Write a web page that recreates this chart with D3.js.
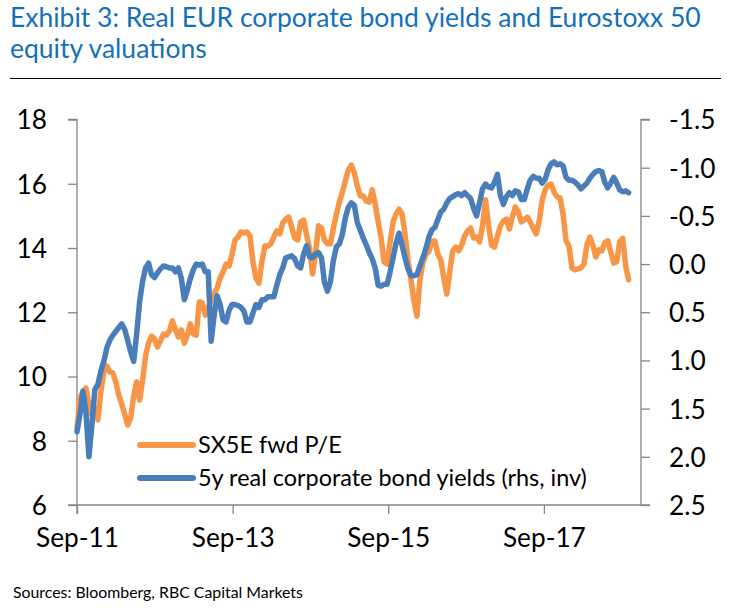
<!DOCTYPE html>
<html><head><meta charset="utf-8">
<script src="https://cdn.jsdelivr.net/npm/d3@7"></script>
<style>body{margin:0;background:#fff}svg{display:block}</style>
</head><body>
<svg id="chart" width="732" height="608"></svg>
<script>
const titleLines = ["Exhibit 3: Real EUR corporate bond yields and Eurostoxx 50", "equity valuations"];
const sourceText = "Sources: Bloomberg, RBC Capital Markets";
const seriesNames = ["SX5E fwd P/E", "5y real corporate bond yields (rhs, inv)"];
const startDate = "2011-09-01";
const stepDays = 14;
const xTickLabels = ["Sep-11", "Sep-13", "Sep-15", "Sep-17"];
const xTickDates = ["2011-09-01", "2013-09-01", "2015-09-01", "2017-09-01"];
const xDomain = ["2011-09-01", "2018-12-01"];
const leftTicks = [6, 8, 10, 12, 14, 16, 18];
const rightTicks = [-1.5, -1.0, -0.5, 0.0, 0.5, 1.0, 1.5, 2.0, 2.5];

const peValues = [8.40, 9.33, 9.55, 9.64, 9.14, 8.80, 9.02, 8.65, 9.52, 10.14,
10.33, 10.14, 10.11, 9.83, 9.42, 9.14, 8.83, 8.49, 8.71, 9.39,
9.83, 9.27, 9.89, 10.64, 11.04, 11.26, 11.17, 10.92, 11.11, 11.32,
11.29, 11.42, 11.73, 11.45, 11.23, 11.45, 11.04, 11.29, 11.64, 11.32,
11.29, 12.32, 12.29, 11.91, 12.13, 12.38, 12.57, 12.76, 13.07, 13.25,
13.50, 13.44, 13.81, 14.25, 14.34, 14.50, 14.47, 14.50, 14.37, 13.57,
13.07, 12.91, 13.57, 14.06, 14.06, 14.13, 14.34, 14.53, 14.44, 14.78,
14.90, 14.96, 14.65, 14.31, 14.25, 14.81, 14.87, 14.41, 14.00, 13.19,
13.81, 14.69, 14.62, 14.25, 14.13, 14.13, 14.62, 15.06, 15.43, 15.74,
16.09, 16.43, 16.58, 16.34, 15.93, 15.62, 15.62, 15.46, 15.43, 15.81,
15.37, 14.81, 14.31, 13.57, 13.50, 14.19, 14.81, 15.06, 15.21, 15.06,
14.44, 13.63, 13.01, 12.35, 11.88, 13.01, 13.53, 13.81, 13.88, 14.22,
14.22, 13.81, 13.63, 13.07, 12.57, 13.25, 13.91, 14.03, 13.91, 14.09,
14.37, 14.53, 14.62, 14.31, 14.34, 14.19, 14.69, 15.50, 14.72, 14.09,
14.03, 14.37, 14.69, 14.84, 14.90, 14.59, 14.96, 15.28, 15.12, 14.81,
14.87, 14.96, 14.81, 14.62, 14.44, 14.84, 15.49, 15.81, 15.96, 15.99,
15.74, 15.59, 15.56, 15.06, 14.22, 14.06, 13.38, 13.32, 13.35, 13.38,
13.50, 14.09, 14.34, 14.09, 13.72, 13.94, 13.91, 14.16, 14.22, 13.88,
13.53, 13.57, 14.19, 14.30, 13.44, 13.01];

const yieldValues = [1.74, 1.56, 1.32, 1.53, 2.00, 1.67, 1.30, 1.25, 1.11, 1.01,
0.87, 0.79, 0.74, 0.70, 0.66, 0.62, 0.68, 0.79, 0.91, 1.01,
0.73, 0.39, 0.18, 0.04, -0.01, 0.11, 0.14, 0.09, 0.05, 0.02,
0.03, 0.04, 0.04, 0.08, 0.04, 0.15, 0.37, 0.27, 0.15, 0.06,
0.00, 0.01, 0.00, 0.08, 0.08, 0.80, 0.53, 0.33, 0.42, 0.58,
0.60, 0.48, 0.42, 0.42, 0.43, 0.45, 0.49, 0.60, 0.60, 0.51,
0.42, 0.45, 0.37, 0.37, 0.34, 0.34, 0.34, 0.22, 0.11, 0.04,
-0.065, -0.075, -0.085, -0.055, 0.02, 0.04, -0.105, -0.19, -0.075, -0.065,
-0.105, -0.12, -0.065, 0.19, 0.28, 0.18, -0.04, -0.18, -0.21, -0.31,
-0.48, -0.59, -0.635, -0.61, -0.43, -0.35, -0.27, -0.20, -0.12, -0.055,
0.04, 0.22, 0.23, 0.21, 0.21, 0.08, -0.065, -0.22, -0.32, -0.20,
-0.065, 0.05, 0.12, 0.12, 0.11, 0.02, -0.065, -0.16, -0.28, -0.355,
-0.38, -0.46, -0.54, -0.57, -0.635, -0.68, -0.70, -0.72, -0.73, -0.71,
-0.74, -0.71, -0.68, -0.58, -0.50, -0.635, -0.78, -0.83, -0.80, -0.79,
-0.85, -0.93, -0.71, -0.62, -0.70, -0.74, -0.71, -0.76, -0.75, -0.67,
-0.67, -0.78, -0.87, -0.91, -0.89, -0.89, -0.84, -0.88, -0.98, -1.04,
-1.06, -1.03, -1.04, -1.02, -0.90, -0.87, -0.87, -0.85, -0.82, -0.78,
-0.81, -0.84, -0.89, -0.93, -0.96, -0.97, -0.96, -0.85, -0.79, -0.84,
-0.90, -0.84, -0.77, -0.75, -0.76, -0.74];

// ---- styles / layout ----
const FONT = "Lato, 'Open Sans', sans-serif";
const orange = "#F79646", blue = "#4A7EBB", axisGrey = "#868686", titleBlue = "#1570BA";
const plot = {left: 77, right: 641, top: 119.5, bottom: 505};

const parse = d3.timeParse("%Y-%m-%d");
const start = parse(startDate);
const dates = peValues.map((_, i) => d3.timeDay.offset(start, i * stepDays));

const svg = d3.select("#chart");

function fitWidth(sel, w) {
  const fs = parseFloat(sel.attr("font-size"));
  const len = sel.node().getComputedTextLength();
  sel.attr("font-size", fs * w / len);
  return fs * w / len;
}

// title
const t1 = svg.append("text").attr("x", 10).attr("y", 27).attr("font-family", FONT)
  .attr("font-size", 24).attr("fill", titleBlue).text(titleLines[0]);
const titleSize = fitWidth(t1, 691);
svg.append("text").attr("x", 10).attr("y", 58).attr("font-family", FONT)
  .attr("font-size", titleSize).attr("fill", titleBlue).text(titleLines[1]);
svg.append("line").attr("x1", 10).attr("x2", 721).attr("y1", 78.5).attr("y2", 78.5)
  .attr("stroke", "#000").attr("stroke-width", 1.2);

// scales
const x = d3.scaleTime().domain(xDomain.map(parse)).range([plot.left, plot.right]);
const yL = d3.scaleLinear().domain([6, 18]).range([plot.bottom, plot.top]);
const yR = d3.scaleLinear().domain([2.5, -1.5]).range([plot.bottom, plot.top]);

// tick font size (fit "Sep-11" to ~83px)
const probe = svg.append("text").attr("font-family", FONT).attr("font-size", 26).text(xTickLabels[0]);
const tickSize = fitWidth(probe, 83);
probe.remove();

// axes
const gL = svg.append("g").attr("transform", `translate(${plot.left},0)`)
  .call(d3.axisLeft(yL).tickValues(leftTicks).tickSize(9).tickPadding(21).tickFormat(d3.format("d")));
const gR = svg.append("g").attr("transform", `translate(${plot.right},0)`)
  .call(d3.axisRight(yR).tickValues(rightTicks).tickSize(9).tickPadding(19).tickFormat(d => d.toFixed(1)));
const gX = svg.append("g").attr("transform", `translate(0,${plot.bottom})`)
  .call(d3.axisBottom(x).tickValues(xTickDates.map(parse)).tickSize(9).tickPadding(14)
    .tickFormat((d, i) => xTickLabels[i]));
[gL, gR, gX].forEach(g => {
  g.select(".domain").attr("stroke", axisGrey).attr("stroke-width", 1.3);
  g.selectAll(".tick line").attr("stroke", axisGrey).attr("stroke-width", 1.3);
  g.selectAll("text").attr("font-family", FONT).attr("font-size", tickSize).attr("fill", "#000");
});
gL.select(".domain").attr("d", `M-9,${plot.top}H0V${plot.bottom}H-9`);
gR.select(".domain").attr("d", `M9,${plot.top}H0V${plot.bottom}H9`);
gX.select(".domain").attr("d", `M${plot.left},9V0H${plot.right}`);
gL.selectAll(".tick text").attr("dy", "0.36em");
gR.selectAll(".tick text").attr("dy", "0.36em");

// lines
const linePE = d3.line().x((d, i) => x(dates[i])).y(d => yL(d));
const lineY = d3.line().x((d, i) => x(dates[i])).y(d => yR(d));
svg.append("path").datum(peValues).attr("d", linePE).attr("fill", "none")
  .attr("stroke", orange).attr("stroke-width", 5.5).attr("stroke-linejoin", "round").attr("stroke-linecap", "round");
svg.append("path").datum(yieldValues).attr("d", lineY).attr("fill", "none")
  .attr("stroke", blue).attr("stroke-width", 5.5).attr("stroke-linejoin", "round").attr("stroke-linecap", "round");

// legend
const legY = [445, 478];
const legColors = [orange, blue];
const legTexts = seriesNames.map((name, i) => {
  svg.append("line").attr("x1", 140).attr("x2", 193).attr("y1", legY[i]).attr("y2", legY[i])
    .attr("stroke", legColors[i]).attr("stroke-width", 6).attr("stroke-linecap", "round");
  return svg.append("text").attr("x", 198).attr("y", legY[i] + 8).attr("font-family", FONT)
    .attr("font-size", 22).attr("fill", "#000").text(name);
});
const legSize = fitWidth(legTexts[1], 389);
legTexts[0].attr("font-size", legSize);

// source
const src = svg.append("text").attr("x", 13).attr("y", 598).attr("font-family", FONT)
  .attr("font-size", 14).attr("fill", "#000").text(sourceText);
fitWidth(src, 290);
</script>
</body></html>
